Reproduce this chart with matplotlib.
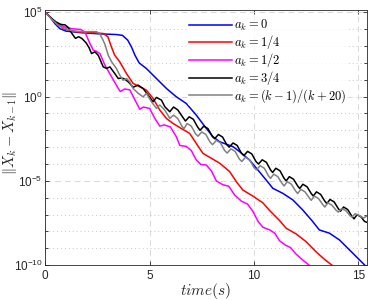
import numpy as np
import matplotlib
matplotlib.use("Agg")
import matplotlib.pyplot as plt
from matplotlib.ticker import FixedLocator, NullFormatter, LogFormatterSciNotation

plt.rcParams['font.family'] = ['Liberation Sans', 'DejaVu Sans']
plt.rcParams['mathtext.fontset'] = 'cm'

# ---- data: time (s) and log10 of ||X_k - X_{k-1}|| ----
t_blue = [0.0, 0.22, 0.46, 0.7, 1.0, 1.8, 2.6, 3.4, 3.7, 3.95, 4.13, 4.3, 4.5, 4.85, 5.33, 5.81,
          6.28, 6.76, 7.24, 7.72, 8.04, 8.36, 9.0, 9.32, 9.79, 10.19, 10.59, 10.91, 11.39, 11.87,
          12.34, 12.82, 13.14, 13.62, 14.1, 14.58, 15.06, 15.4]
e_blue = [5.0, 4.72, 4.33, 4.03, 3.88, 3.78, 3.72, 3.68, 3.63, 3.35, 2.95, 2.45, 2.0, 1.66, 1.07, 0.48,
          -0.01, -0.41, -1.1, -1.89, -2.38, -2.68, -2.97, -3.27, -3.76, -4.35, -4.95, -5.44, -5.74, -6.13,
          -6.72, -7.41, -7.91, -8.1, -8.5, -9.09, -9.68, -10.1]

t_red = [0.0, 0.38, 0.86, 1.5, 2.14, 2.78, 3.0, 3.17, 3.33, 3.57, 3.89, 4.21, 4.53, 4.85, 5.17, 5.49,
         5.81, 6.12, 6.52, 6.92, 7.24, 7.56, 7.88, 8.36, 8.84, 9.16, 9.47, 9.95, 10.43, 10.75, 11.23,
         11.55, 12.03, 12.5, 12.98, 13.38, 13.8]
e_red = [5.0, 4.53, 4.03, 3.84, 3.8, 3.74, 3.55, 2.95, 2.45, 2.06, 1.37, 0.78, 0.58, 0.38, -0.11, -0.8,
         -1.3, -1.59, -1.89, -2.18, -2.78, -3.37, -3.6, -3.95, -4.45, -5.05, -5.54, -5.9, -6.3, -6.75, -7.35,
         -7.81, -8.15, -8.6, -9.2, -9.65, -10.05]

t_mag = [0.0, 0.38, 0.86, 1.3, 1.7, 1.9, 2.14, 2.3, 2.46, 2.62, 2.86, 3.18, 3.5, 3.6, 3.8, 4.05, 4.3,
         4.53, 4.7, 5.0, 5.25, 5.49, 5.7, 6.0, 6.29, 6.45, 6.75, 7.0, 7.24, 7.45, 7.72, 7.96, 8.2, 8.5,
         8.8, 9.08, 9.4, 9.7, 9.95, 10.2, 10.43, 10.75, 11.0, 11.23, 11.5, 11.75, 12.03, 12.35, 12.7]
e_mag = [5.0, 4.55, 4.15, 4.02, 3.98, 3.83, 3.15, 2.75, 2.68, 2.55, 1.86, 1.17, 0.48, 0.3, 0.45, 0.4, -0.2,
         -0.75, -0.62, -0.7, -1.29, -1.75, -1.68, -1.8, -2.4, -2.9, -2.95, -3.2, -3.76, -4.02, -4.06, -4.4, -5.0, -5.22,
         -5.32, -5.84, -6.2, -6.38, -6.8, -7.4, -7.75, -7.9, -8.1, -8.55, -8.8, -8.95, -9.35, -9.7, -10.05]

t_blk = [0.0, 0.25, 0.5, 0.75, 0.95, 1.1, 1.3, 1.45, 1.6, 1.75, 1.95, 2.1, 2.22, 2.38, 2.54, 2.78, 2.94,
         3.1, 3.33, 3.5, 3.65, 3.8, 4.0, 4.21, 4.45, 4.69, 4.93, 5.17, 5.33, 5.57, 5.73, 5.97, 6.15, 6.36,
         6.55, 6.72, 6.9, 7.1, 7.3, 7.42, 7.6, 7.8, 8.0, 8.12, 8.3, 8.5, 8.7, 8.82, 9.0, 9.2, 9.4, 9.52,
         9.7, 9.9, 10.1, 10.22, 10.4, 10.6, 10.8, 10.9, 11.05, 11.25, 11.45, 11.55, 11.7, 11.9, 12.1, 12.2,
         12.35, 12.55, 12.75, 12.85, 13.0, 13.2, 13.4, 13.5, 13.65, 13.85, 14.05, 14.15, 14.3, 14.5, 14.7,
         14.8, 14.95, 15.15, 15.3, 15.4]
e_blk = [5.0, 4.7, 4.42, 4.28, 4.25, 4.1, 3.7, 3.45, 3.55, 3.45, 3.2, 2.9, 2.55, 2.65, 2.45, 1.76, 1.67,
         1.76, 1.37, 1.07, 1.1, 1.05, 0.85, 0.55, 0.68, 0.48, 0.09, -0.31, -0.05, -0.21, -0.6, -0.9, -0.62, -0.8,
         -1.15, -1.45, -1.2, -1.35, -1.8, -2.0, -1.75, -1.9, -2.35, -2.5, -2.25, -2.4, -2.85, -3.0, -2.75, -2.9, -3.35, -3.5,
         -3.25, -3.4, -3.85, -4.0, -3.75, -3.9, -4.35, -4.5, -4.25, -4.4, -4.85, -5.0, -4.75, -4.9, -5.3, -5.45,
         -5.2, -5.35, -5.75, -5.9, -5.65, -5.8, -6.2, -6.35, -6.1, -6.25, -6.65, -6.8, -6.55, -6.7, -7.1,
         -7.25, -7.0, -7.15, -7.4, -7.45]

t_gry = [0.0, 0.3, 0.6, 0.9, 1.3, 1.8, 2.2, 2.45, 2.6, 2.75, 2.86, 3.02, 3.18, 3.41, 3.57, 3.73, 3.9,
         4.05, 4.21, 4.45, 4.69, 4.85, 5.09, 5.33, 5.49, 5.73, 5.97, 6.15, 6.35, 6.55, 6.65, 6.8, 7.0,
         7.2, 7.32, 7.5, 7.7, 7.9, 8.02, 8.2, 8.4, 8.6, 8.72, 8.9, 9.1, 9.3, 9.42, 9.6, 9.8, 10.0, 10.12,
         10.3, 10.5, 10.7, 10.8, 10.95, 11.15, 11.35, 11.45, 11.6, 11.8, 12.0, 12.1, 12.25, 12.45, 12.65,
         12.75, 12.9, 13.1, 13.3, 13.4, 13.55, 13.75, 13.95, 14.05, 14.2, 14.4, 14.6, 14.7, 14.85, 15.05,
         15.25, 15.4]
e_gry = [5.0, 4.6, 4.25, 4.05, 3.9, 3.85, 3.85, 3.85, 3.75, 3.4, 3.1, 2.45, 2.06, 1.67, 1.27, 0.97, 1.07,
         0.87, 0.48, 0.2, -0.02, 0.19, -0.31, -0.7, -0.5, -0.8, -1.29, -1.1, -1.3, -1.75, -1.9, -1.6, -1.75,
         -2.2, -2.35, -2.1, -2.25, -2.7, -2.85, -2.6, -2.75, -3.2, -3.35, -3.1, -3.25, -3.7, -3.85, -3.6, -3.75, -4.2, -4.35,
         -4.1, -4.25, -4.7, -4.85, -4.6, -4.75, -5.15, -5.3, -5.05, -5.2, -5.6, -5.75, -5.5, -5.65, -6.0,
         -6.15, -5.9, -6.05, -6.4, -6.55, -6.3, -6.45, -6.75, -6.85, -6.65, -6.75, -7.05, -7.15, -6.95, -7.05,
         -7.2, -7.1]

labels = [r'$a_k=0$', r'$a_k=1/4$', r'$a_k=1/2$', r'$a_k=3/4$', r'$a_k=(k-1)/(k+20)$']
colors = ['#0000ff', '#ff0000', '#ff00ff', '#000000', '#808080']
series = [(t_blue, e_blue), (t_red, e_red), (t_mag, e_mag), (t_blk, e_blk), (t_gry, e_gry)]

fig = plt.figure(figsize=(3.74, 3.0), dpi=100)
ax = fig.add_axes([0.121, 0.116, 0.859, 0.851])

for (t, e), c, lab in zip(series, colors, labels):
    ax.semilogy(t, 10.0 ** np.asarray(e), color=c, lw=1.1, label=lab)

ax.set_xlim(0, 15.4)
ax.set_ylim(1e-10, 10 ** 5.14)
ax.set_xticks([0, 5, 10, 15])
ax.yaxis.set_major_locator(FixedLocator([1e-10, 1e-5, 1, 1e5]))
ax.yaxis.set_minor_locator(FixedLocator([10.0 ** k for k in range(-10, 6)]))
ax.yaxis.set_major_formatter(LogFormatterSciNotation())
ax.yaxis.set_minor_formatter(NullFormatter())

ax.grid(which='major', linestyle=(0, (6, 4)), color='#d8d8d8', lw=0.7)
ax.grid(which='minor', axis='y', linestyle=(0, (1, 3)), color='#c8c8c8', lw=0.7)
ax.set_axisbelow(True)

ax.tick_params(which='both', direction='in', top=True, right=True, colors='#262626',
               labelsize=8.5, width=0.6)
ax.tick_params(which='major', length=3)
ax.tick_params(which='minor', length=2)
ax.tick_params(axis='y', which='major', pad=2)
for s in ax.spines.values():
    s.set_color('#262626')
    s.set_linewidth(0.6)

ax.set_xlabel(r'$time(s)$', fontsize=11, color='#262626', labelpad=-1)
ax.set_ylabel(r'$\|X_k-X_{k-1}\|$', fontsize=10.5, color='#262626')
ax.yaxis.set_label_coords(-0.083, 0.52)

leg = ax.legend(loc='upper left', bbox_to_anchor=(0.445, 0.972), frameon=True, fontsize=9,
                handlelength=3.4, handletextpad=0.15, labelspacing=0.0, borderpad=0.1,
                borderaxespad=0)
leg.get_frame().set_facecolor('white')
leg.get_frame().set_edgecolor('none')

fig.savefig('out.png', dpi=100)
